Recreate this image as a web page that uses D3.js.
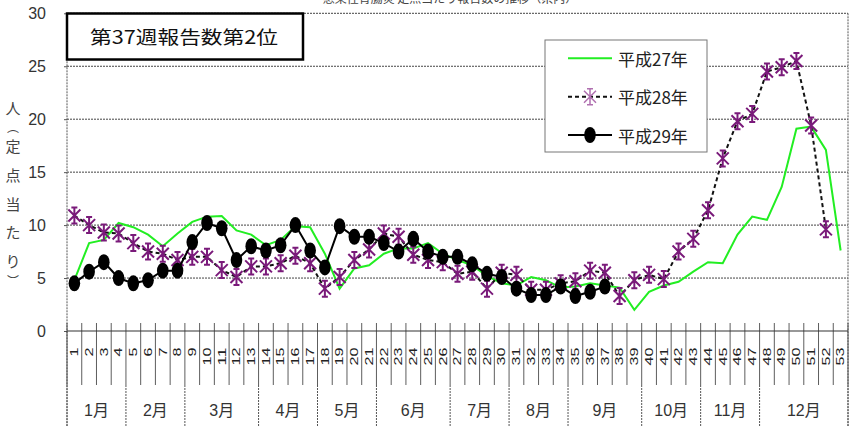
<!DOCTYPE html>
<html><head><meta charset="utf-8">
<script src="https://cdn.jsdelivr.net/npm/d3@7"></script>
<style>
html,body{margin:0;padding:0;background:#fff;}
svg{display:block;}
</style></head>
<body>
<svg id="chart" width="852" height="426"></svg>
<script>
// ---- data ----
const weeks = ["1","2","3","4","5","6","7","8","9","10","11","12","13","14","15","16","17","18","19","20","21","22","23","24","25","26","27","28","29","30","31","32","33","34","35","36","37","38","39","40","41","42","43","44","45","46","47","48","49","50","51","52","53"];
const monthLabels = ["1月","2月","3月","4月","5月","6月","7月","8月","9月","10月","11月","12月"];
const monthWeekCounts = [4,4,5,4,4,5,4,4,5,4,4,6];
const yTicks = [0,5,10,15,20,25,30];
const seriesNames = ["平成27年","平成28年","平成29年"];
const h27 = [4.8,8.3,8.6,10.2,9.8,9.1,8.0,9.2,10.3,10.8,10.85,9.5,9.1,8.1,8.6,9.9,9.8,7.3,4.0,5.9,6.2,7.3,7.8,7.8,8.3,7.3,6.7,6.2,5.2,4.5,4.3,5.1,4.8,4.1,4.2,4.5,4.3,4.1,2.0,3.7,4.3,4.65,5.6,6.5,6.4,9.1,10.8,10.5,13.6,19.1,19.3,17.1,7.6];
const h28 = [10.9,10.0,9.3,9.2,8.3,7.5,7.3,6.7,7.0,7.0,5.75,5.1,6.1,6.1,6.4,7.1,6.4,4.0,5.1,6.7,7.7,9.2,8.9,7.2,6.7,6.5,5.4,5.6,4.0,5.5,5.3,3.9,3.9,4.5,4.7,5.7,5.5,3.3,4.8,5.3,4.9,7.5,8.7,11.4,16.3,19.8,20.5,24.5,24.9,25.5,19.4,9.6];
const h29 = [4.5,5.6,6.5,5.0,4.5,4.8,5.7,5.7,8.4,10.2,9.7,6.7,8.0,7.6,8.1,10.0,7.6,6.0,9.9,8.9,8.9,8.3,7.5,8.7,7.5,7.0,7.0,6.3,5.4,5.1,4.0,3.4,3.4,4.2,3.3,3.7,4.2];
const yAxisTitle = ["人","︵","定","点","当","た","り","︶"];
const annotation = "第37週報告数第2位";
const topTitle = "感染性胃腸炎 定点当たり報告数の推移（県内）";

// ---- layout ----
const svg = d3.select("#chart");
const L = 67, R = 848, T = 13.3, B = 331, BOT = 426, ROW = 385;
const x = d3.scaleBand().domain(weeks).range([L, R]).paddingInner(0).paddingOuter(0);
const y = d3.scaleLinear().domain([0, 30]).range([B, T]);
const cx = w => x(w) + x.bandwidth() / 2;
const narrow = "'Liberation Sans Narrow','Liberation Sans','Noto Sans CJK JP',sans-serif";
const cjk = "'Noto Sans CJK JP','Liberation Sans',sans-serif";

// partially visible top title
svg.append("text").attr("x", 450).attr("y", 3).attr("text-anchor", "middle")
  .attr("font-family", cjk).attr("font-size", 12).attr("fill", "#444").text(topTitle);

// gridlines
svg.append("g").selectAll("line").data(yTicks.filter(v => v > 0)).join("line")
  .attr("x1", L).attr("x2", R).attr("y1", d => y(d)).attr("y2", d => y(d))
  .attr("stroke", "#444").attr("stroke-width", 1).attr("stroke-dasharray", "2,1");
// right border
svg.append("line").attr("x1", R).attr("x2", R).attr("y1", T).attr("y2", BOT)
  .attr("stroke", "#555").attr("stroke-dasharray", "2,1");

// y axis
const yAxis = d3.axisLeft(y).tickValues(yTicks).tickSize(3).tickPadding(20);
const yg = svg.append("g").attr("transform", `translate(${L},0)`).call(yAxis);
yg.select(".domain").remove();
yg.selectAll(".tick line").attr("stroke", "#555");
yg.selectAll(".tick text").attr("font-family", narrow).attr("font-size", 16).attr("fill", "#333")
  .attr("x", -21).attr("text-anchor", "end");
svg.append("line").attr("x1", L).attr("x2", L).attr("y1", T).attr("y2", BOT)
  .attr("stroke", "#555").attr("stroke-dasharray", "2,1");

// y axis title (vertical)
const titleYs = [107, 126, 145, 174, 203, 231, 260, 280];
const titleSizes = [15, 12, 15, 15, 15, 15, 15, 12];
svg.append("g").selectAll("text").data(yAxisTitle).join("text")
  .attr("x", 13).attr("y", (d, i) => titleYs[i]).attr("text-anchor", "middle")
  .attr("dominant-baseline", "central").attr("font-family", cjk).attr("font-size", (d, i) => titleSizes[i])
  .attr("fill", "#444").text(d => d);

// x axis line
svg.append("line").attr("x1", L).attr("x2", R).attr("y1", B).attr("y2", B)
  .attr("stroke", "#333").attr("stroke-width", 1.2);

// week boundary lines
const bounds = weeks.map(w => x(w)).concat([R]);
svg.append("g").selectAll("line").data(bounds).join("line")
  .attr("x1", d => d).attr("x2", d => d).attr("y1", 323).attr("y2", ROW)
  .attr("stroke", "#333").attr("stroke-width", 0.8);
// month boundary lines
let acc = 0; const monthBounds = [L];
monthWeekCounts.forEach(c => { acc += c; monthBounds.push(acc < weeks.length ? x(weeks[acc]) : R); });
svg.append("g").selectAll("line").data(monthBounds).join("line")
  .attr("x1", d => d).attr("x2", d => d).attr("y1", ROW).attr("y2", BOT)
  .attr("stroke", "#555").attr("stroke-dasharray", "2,1");

// week labels rotated
svg.append("g").selectAll("text").data(weeks).join("text")
  .attr("transform", d => `translate(${cx(d)},347.5) rotate(-90)`)
  .attr("text-anchor", "end").attr("dy", "0.36em")
  .attr("font-family", "'Liberation Sans',sans-serif").attr("font-size", 10.5).attr("fill", "#222")
  .attr("textLength", d => d.length * 9).attr("lengthAdjust", "spacingAndGlyphs")
  .text(d => d);

// month labels
svg.append("g").selectAll("text").data(monthLabels).join("text")
  .attr("x", (d, i) => (monthBounds[i] + monthBounds[i + 1]) / 2).attr("y", 410)
  .attr("text-anchor", "middle").attr("dominant-baseline", "central")
  .attr("font-family", narrow).attr("font-size", 16).attr("fill", "#333").text(d => d);

// series
const line = d3.line().defined(d => d[1] != null).x(d => cx(d[0])).y(d => y(d[1]));
const pts = arr => arr.map((v, i) => [weeks[i], v]);
svg.append("path").attr("d", line(pts(h27))).attr("fill", "none")
  .attr("stroke", "#22ee22").attr("stroke-width", 2);
svg.append("path").attr("d", line(pts(h28))).attr("fill", "none")
  .attr("stroke", "#111").attr("stroke-width", 2).attr("stroke-dasharray", "4,3");
const star = "M0,-8V8M-6,-6L6,6M-6,6L6,-6M-3,-8H3M-3,8H3";
svg.append("g").selectAll("path").data(pts(h28)).join("path")
  .attr("transform", d => `translate(${cx(d[0])},${y(d[1])})`).attr("d", star)
  .attr("fill", "none").attr("stroke", "#7a1a7a").attr("stroke-width", 2);
svg.append("path").attr("d", line(pts(h29))).attr("fill", "none")
  .attr("stroke", "#000").attr("stroke-width", 2);
svg.append("g").selectAll("ellipse").data(pts(h29)).join("ellipse")
  .attr("cx", d => cx(d[0])).attr("cy", d => y(d[1])).attr("rx", 5.8).attr("ry", 8)
  .attr("fill", "#000");

// annotation box
svg.append("rect").attr("x", 67).attr("y", 13.5).attr("width", 236).attr("height", 46)
  .attr("fill", "#fff").attr("stroke", "#000").attr("stroke-width", 2.5);
svg.append("text").attr("x", 90).attr("y", 43.5).attr("font-family", cjk).attr("font-size", 18)
  .attr("fill", "#111").attr("textLength", 188).attr("lengthAdjust", "spacingAndGlyphs").text(annotation);

// legend
const lg = svg.append("g");
lg.append("rect").attr("x", 545).attr("y", 40).attr("width", 162).attr("height", 112)
  .attr("fill", "#fff").attr("stroke", "#777").attr("stroke-width", 1);
const rowsY = [58.3, 96.7, 135];
lg.append("line").attr("x1", 568).attr("x2", 612).attr("y1", rowsY[0]).attr("y2", rowsY[0])
  .attr("stroke", "#22ee22").attr("stroke-width", 2);
lg.append("line").attr("x1", 568).attr("x2", 612).attr("y1", rowsY[1]).attr("y2", rowsY[1])
  .attr("stroke", "#111").attr("stroke-width", 2).attr("stroke-dasharray", "4,3");
lg.append("path").attr("transform", `translate(590,${rowsY[1]})`).attr("d", star)
  .attr("fill", "none").attr("stroke", "#b070b0").attr("stroke-width", 1.5);
lg.append("line").attr("x1", 568).attr("x2", 612).attr("y1", rowsY[2]).attr("y2", rowsY[2])
  .attr("stroke", "#000").attr("stroke-width", 2);
lg.append("ellipse").attr("cx", 590).attr("cy", rowsY[2]).attr("rx", 5.8).attr("ry", 8).attr("fill", "#000");
lg.selectAll("text").data(seriesNames).join("text")
  .attr("x", 618).attr("y", (d, i) => rowsY[i]).attr("dominant-baseline", "central")
  .attr("font-family", cjk).attr("font-size", 17).attr("fill", "#222").text(d => d);
</script>
</body></html>
